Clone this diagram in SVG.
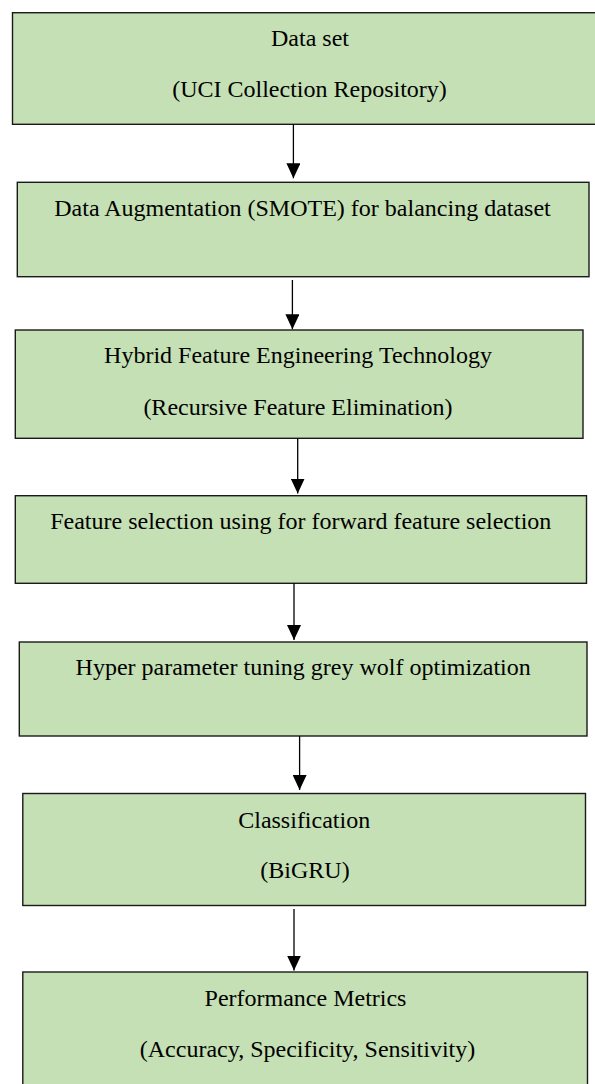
<svg xmlns="http://www.w3.org/2000/svg" width="595" height="1084" viewBox="0 0 595 1084">
  <style>
    .box { fill: #C5E0B4; stroke: #1a1a1a; stroke-width: 1.4; }
    .lbl { font-family: "Liberation Serif", "Times New Roman", serif; font-size: 24px; fill: #000; text-anchor: middle; }
    .conn { stroke: #000; stroke-width: 1.3; fill: none; marker-end: url(#arrow); }
  </style>
  <defs>
    <marker id="arrow" viewBox="0 0 15 14" refX="15" refY="7" markerWidth="15" markerHeight="14" markerUnits="userSpaceOnUse" orient="auto">
      <path d="M0,0 L15,7 L0,14 z" fill="#000"/>
    </marker>
  </defs>
  <rect width="595" height="1084" fill="#fff"/>

  <g id="node-dataset">
    <rect class="box" x="12.5" y="12.7" width="595" height="111.6"/>
    <text class="lbl" x="310" y="46">Data set</text>
    <text class="lbl" x="309.5" y="97">(UCI Collection Repository)</text>
  </g>
  <g id="node-augmentation">
    <rect class="box" x="17.3" y="182.3" width="571.7" height="94.4"/>
    <text class="lbl" x="302.5" y="215.5">Data Augmentation (SMOTE) for balancing dataset</text>
  </g>
  <g id="node-hybrid">
    <rect class="box" x="15.3" y="330" width="567.7" height="108.3"/>
    <text class="lbl" x="298" y="363">Hybrid Feature Engineering Technology</text>
    <text class="lbl" x="298" y="414.5">(Recursive Feature Elimination)</text>
  </g>
  <g id="node-selection">
    <rect class="box" x="15.3" y="495.7" width="571.2" height="87.6"/>
    <text class="lbl" x="300.8" y="528.5">Feature selection using for forward feature selection</text>
  </g>
  <g id="node-tuning">
    <rect class="box" x="19.3" y="642" width="567.7" height="94"/>
    <text class="lbl" x="303.2" y="675">Hyper parameter tuning grey wolf optimization</text>
  </g>
  <g id="node-classification">
    <rect class="box" x="22.8" y="793.5" width="562.7" height="112"/>
    <text class="lbl" x="304.2" y="827.7">Classification</text>
    <text class="lbl" x="305" y="878.3">(BiGRU)</text>
  </g>
  <g id="node-metrics">
    <rect class="box" x="22.8" y="972" width="564.7" height="130"/>
    <text class="lbl" x="305.5" y="1005.7">Performance Metrics</text>
    <text class="lbl" x="307.5" y="1056.7">(Accuracy, Specificity, Sensitivity)</text>
  </g>

  <g id="connectors">
    <line class="conn" x1="293.4" y1="124.3" x2="293.4" y2="178.3"/>
    <line class="conn" x1="292.4" y1="280" x2="292.4" y2="329.3"/>
    <line class="conn" x1="297.7" y1="438.3" x2="297.7" y2="493.5"/>
    <line class="conn" x1="294" y1="583.3" x2="294" y2="640"/>
    <line class="conn" x1="299.6" y1="736" x2="299.6" y2="790"/>
    <line class="conn" x1="294" y1="909" x2="294" y2="970.5"/>
  </g>
</svg>
